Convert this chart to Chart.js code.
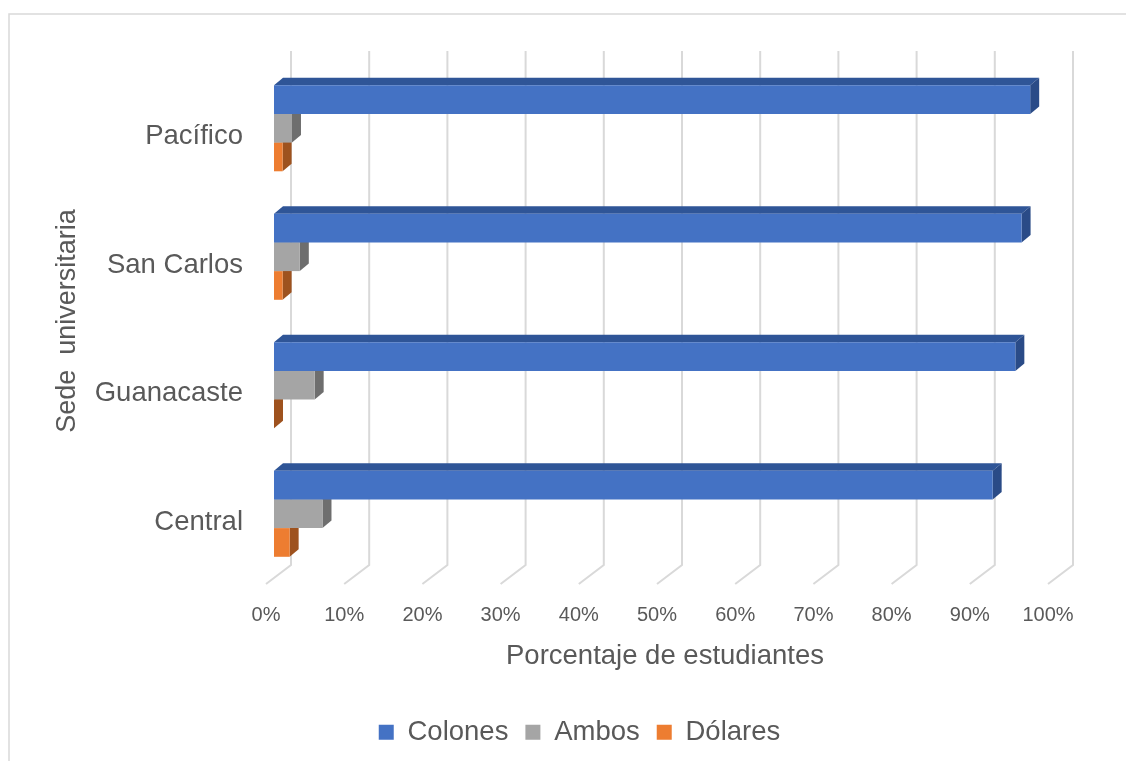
<html><head>
<meta charset="UTF-8">
<title>Sede universitaria</title>
<script src="https://cdn.jsdelivr.net/npm/chart.js"></script>
<style>
* {
  margin: 0;
  padding: 0;
  box-sizing: border-box;
}

body {
  background: white;
  width: 1126px;
  height: 761px;
  overflow: hidden;
}

.chart-box {
  position: relative;
  width: 1126px;
  height: 761px;
}
</style>
</head>
<body>
<div class="chart-box">
  <canvas id="sedesChart"></canvas>
</div>

<script>
const sedes = ['Pacífico', 'San Carlos', 'Guanacaste', 'Central'];
const colones = [96.7, 95.6, 94.8, 91.9];
const ambos = [2.3, 3.3, 5.2, 6.2];
const dolares = [1.1, 1.1, 0, 2.0];
const porcentajes = [0, 10, 20, 30, 40, 50, 60, 70, 80, 90, 100];

const textColor = '#595959';
const fontFamily = "'Liberation Sans', Arial, sans-serif";

// depth of the bars, and of the back wall / floor
const barDepth = { dx: 9, dy: -7.5 };
const wallShift = { dx: 17, dy: -13 };
const floorShift = { dx: -8, dy: 6 };

// darker faces for the 3D look: [top, side]
const faceColors = [
  ['#2F5597', '#2A4B87'],
  ['#7F7F7F', '#6E6E6E'],
  ['#C55A11', '#9E521E']
];

const frame3d = {
  id: 'frame3d',
  afterLayout(chart) {
    // legend sits a bit right of the canvas middle in the original
    chart.legend.left += 27;
    chart.legend.right += 27;
  },
  beforeDraw(chart) {
    const ctx = chart.ctx;
    ctx.save();
    ctx.strokeStyle = '#d9d9d9';
    ctx.lineWidth = 1.5;
    ctx.strokeRect(9, 14, 1200, 800);
    ctx.restore();
  },
  beforeDatasetsDraw(chart) {
    const { ctx, chartArea, scales } = chart;
    const x = scales.x;
    ctx.save();

    // back wall grid lines that fold onto the floor
    ctx.strokeStyle = '#d9d9d9';
    ctx.lineWidth = 2;
    x.ticks.forEach(t => {
      const px = x.getPixelForValue(t.value);
      ctx.beginPath();
      ctx.moveTo(px + wallShift.dx, chartArea.top + wallShift.dy);
      ctx.lineTo(px + wallShift.dx, chartArea.bottom + wallShift.dy);
      ctx.lineTo(px + floorShift.dx, chartArea.bottom + floorShift.dy);
      ctx.stroke();
    });

    // top and side faces of each bar, the front faces come from chart.js
    chart.data.datasets.forEach((ds, i) => {
      const meta = chart.getDatasetMeta(i);
      meta.data.forEach(bar => {
        const top = bar.y - bar.height / 2;
        const bot = bar.y + bar.height / 2;
        ctx.fillStyle = faceColors[i][0];
        ctx.beginPath();
        ctx.moveTo(bar.base, top);
        ctx.lineTo(bar.x, top);
        ctx.lineTo(bar.x + barDepth.dx, top + barDepth.dy);
        ctx.lineTo(bar.base + barDepth.dx, top + barDepth.dy);
        ctx.closePath();
        ctx.fill();

        ctx.fillStyle = faceColors[i][1];
        ctx.beginPath();
        ctx.moveTo(bar.x, top);
        ctx.lineTo(bar.x + barDepth.dx, top + barDepth.dy);
        ctx.lineTo(bar.x + barDepth.dx, bot + barDepth.dy);
        ctx.lineTo(bar.x, bot);
        ctx.closePath();
        ctx.fill();
      });
    });
    ctx.restore();
  }
};

const ctx = document.getElementById('sedesChart').getContext('2d');

const sedesChart = new Chart(ctx, {
  type: 'bar',
  data: {
    labels: sedes,
    datasets: [{
      label: 'Colones',
      data: colones,
      backgroundColor: '#4472C4'
    }, {
      label: 'Ambos',
      data: ambos,
      backgroundColor: '#A5A5A5'
    }, {
      label: 'Dólares',
      data: dolares,
      backgroundColor: '#ED7D31'
    }]
  },
  options: {
    indexAxis: 'y',
    responsive: true,
    maintainAspectRatio: false,
    animation: false,
    datasets: {
      bar: {
        categoryPercentage: 0.67,
        barPercentage: 1.0,
        borderWidth: 0
      }
    },
    layout: {
      padding: { top: 64, left: 49, right: 70, bottom: 5 }
    },
    plugins: {
      tooltip: { enabled: false },
      legend: {
        position: 'bottom',
        labels: {
          boxWidth: 15,
          boxHeight: 15,
          padding: 17,
          color: textColor,
          font: { family: fontFamily, size: 27.5 }
        }
      }
    },
    scales: {
      x: {
        min: 0,
        max: 100,
        afterBuildTicks: (scale) => {
          scale.ticks = porcentajes.map(v => ({ value: v }));
        },
        afterFit: (scale) => {
          scale.height = 123.5;
        },
        grid: { display: false, drawTicks: false },
        border: { display: false },
        ticks: {
          padding: 25,
          labelOffset: -8,
          color: textColor,
          font: { family: fontFamily, size: 20 },
          callback: (v) => v + '%'
        },
        title: {
          display: true,
          text: 'Porcentaje de estudiantes',
          color: textColor,
          font: { family: fontFamily, size: 27.5 },
          padding: { top: 4, bottom: 28.6 }
        }
      },
      y: {
        afterFit: (scale) => {
          scale.width = 225;
        },
        grid: { display: false, drawTicks: false },
        border: { display: false },
        ticks: {
          padding: 31,
          labelOffset: 8.5,
          color: textColor,
          font: { family: fontFamily, size: 27.5 }
        },
        title: {
          display: true,
          text: 'Sede  universitaria',
          color: textColor,
          font: { family: fontFamily, size: 27 },
          padding: { top: 2.5, bottom: 0 }
        }
      }
    }
  },
  plugins: [frame3d]
});
</script>
</body></html>
